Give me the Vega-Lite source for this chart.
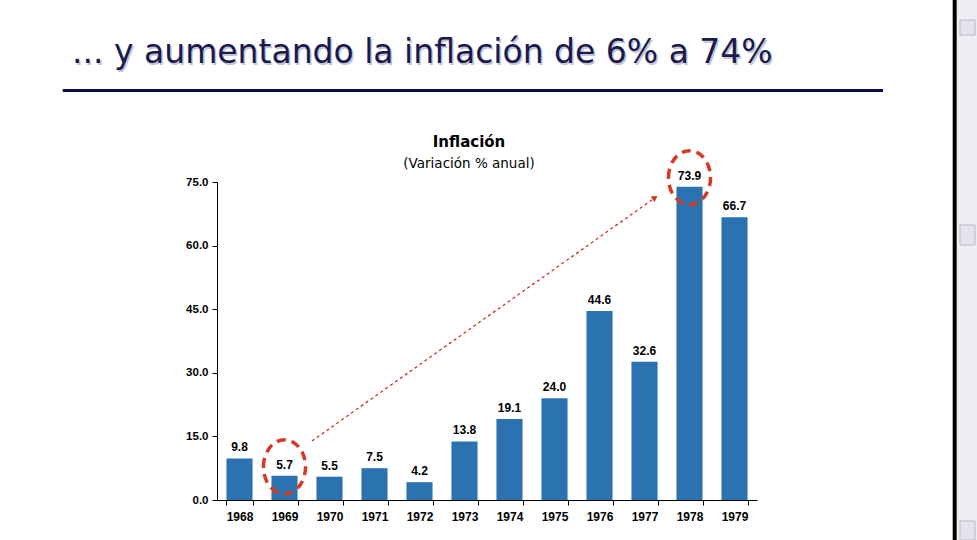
{
  "$schema": "https://vega.github.io/schema/vega-lite/v6.json",
  "width": 540,
  "height": 318,
  "autosize": {"type": "none"},
  "padding": {"left": 217, "top": 182, "right": 220, "bottom": 40},
  "background": "white",
  "config": {"view": {"stroke": null}},
  "datasets": {
    "infl": [
      {"year": "1968", "value": 9.8},
      {"year": "1969", "value": 5.7},
      {"year": "1970", "value": 5.5},
      {"year": "1971", "value": 7.5},
      {"year": "1972", "value": 4.2},
      {"year": "1973", "value": 13.8},
      {"year": "1974", "value": 19.1},
      {"year": "1975", "value": 24.0},
      {"year": "1976", "value": 44.6},
      {"year": "1977", "value": 32.6},
      {"year": "1978", "value": 73.9},
      {"year": "1979", "value": 66.7}
    ]
  },
  "layer": [
    {
      "data": {"name": "infl"},
      "layer": [
        {
          "mark": {"type": "bar", "color": "#2a73b0"},
          "encoding": {
            "x": {
              "field": "year",
              "type": "nominal",
              "scale": {
                "domain": ["1968","1969","1970","1971","1972","1973","1974","1975","1976","1977","1978","1979"],
                "paddingInner": 0.42,
                "paddingOuter": 0.21
              },
              "axis": {
                "title": null,
                "labelAngle": 0,
                "tickBand": "extent",
                "tickSize": 5,
                "labelPadding": 6,
                "labelFont": "Liberation Sans",
                "labelFontWeight": "bold",
                "labelFontSize": 12,
                "labelColor": "#000000",
                "domainColor": "#000000",
                "tickColor": "#000000"
              }
            },
            "y": {
              "field": "value",
              "type": "quantitative",
              "scale": {"domain": [0, 75], "nice": false},
              "axis": {
                "title": null,
                "values": [0, 15, 30, 45, 60, 75],
                "format": ".1f",
                "grid": false,
                "tickSize": 5,
                "labelPadding": 4,
                "labelFont": "Liberation Sans",
                "labelFontWeight": "bold",
                "labelFontSize": 11.5,
                "labelColor": "#000000",
                "domainColor": "#000000",
                "tickColor": "#000000"
              }
            }
          }
        },
        {
          "mark": {"type": "text", "font": "Liberation Sans", "fontWeight": "bold", "fontSize": 12, "color": "#000000", "baseline": "alphabetic", "dy": -7},
          "encoding": {
            "x": {"field": "year", "type": "nominal"},
            "y": {"field": "value", "type": "quantitative"},
            "text": {"field": "value", "type": "quantitative", "format": ".1f"}
          }
        },
        {
          "transform": [{"filter": "datum.year == '1969' || datum.year == '1978'"}],
          "mark": {
            "type": "point",
            "shape": "M -0.78 0 A 0.78 1 0 1 1 0.78 0 A 0.78 1 0 1 1 -0.78 0 Z",
            "size": 2916,
            "filled": false,
            "stroke": "#d43a24",
            "strokeWidth": 3.5,
            "strokeDash": [9, 6],
            "opacity": 1
          },
          "encoding": {
            "x": {"field": "year", "type": "nominal"},
            "y": {"field": "value", "type": "quantitative"},
            "yOffset": {"value": -9}
          }
        },
        {
          "data": {"values": [{"from": "1969", "to": "1978"}]},
          "layer": [
            {
              "mark": {"type": "rule", "color": "#c83220", "strokeWidth": 1.3, "strokeDash": [3, 3]},
              "encoding": {
                "x": {"field": "from", "type": "nominal", "bandPosition": 1.55},
                "x2": {"field": "to", "bandPosition": -0.82},
                "y": {"datum": 13.9, "type": "quantitative"},
                "y2": {"datum": 71.3}
              }
            },
            {
              "mark": {"type": "point", "shape": "triangle-right", "filled": true, "color": "#c83220", "size": 45, "angle": -35, "opacity": 1},
              "encoding": {
                "x": {"field": "to", "type": "nominal", "bandPosition": -0.82},
                "y": {"datum": 71.3, "type": "quantitative"}
              }
            }
          ]
        }
      ]
    },
    {
      "data": {"values": [{}]},
      "encoding": {
        "x": {"type": "quantitative", "scale": {"domain": [0, 1], "nice": false, "zero": false}, "axis": null},
        "y": {"type": "quantitative", "scale": {"domain": [0, 1], "nice": false, "zero": false}, "axis": null}
      },
      "layer": [
        {
          "mark": {"type": "text", "text": "... y aumentando la inflación de 6% a 74%", "font": "DejaVu Sans", "fontSize": 33, "color": "#c4c4d2", "align": "left", "baseline": "alphabetic", "dx": 1.5, "dy": 1.5},
          "encoding": {"x": {"datum": -0.2685}, "y": {"datum": 1.374}}
        },
        {
          "mark": {"type": "text", "text": "... y aumentando la inflación de 6% a 74%", "font": "DejaVu Sans", "fontSize": 33, "color": "#1a1a4e", "align": "left", "baseline": "alphabetic"},
          "encoding": {"x": {"datum": -0.2685}, "y": {"datum": 1.374}}
        },
        {
          "mark": {"type": "rule", "color": "#0a0a46", "strokeWidth": 3},
          "encoding": {"x": {"datum": -0.2857}, "x2": {"datum": 1.2333}, "y": {"datum": 1.2877}}
        },
        {
          "mark": {"type": "text", "text": "Inflación", "font": "DejaVu Sans", "fontWeight": "bold", "fontSize": 15, "color": "#000000", "align": "center", "baseline": "alphabetic"},
          "encoding": {"x": {"datum": 0.4667}, "y": {"datum": 1.11}}
        },
        {
          "mark": {"type": "text", "text": "(Variación % anual)", "font": "DejaVu Sans", "fontSize": 13.5, "color": "#000000", "align": "center", "baseline": "alphabetic"},
          "encoding": {"x": {"datum": 0.4667}, "y": {"datum": 1.044}}
        },
        {
          "mark": {"type": "rect", "color": "#eeeef5"},
          "encoding": {"x": {"datum": 1.3704}, "x2": {"datum": 1.41}, "y": {"datum": -0.13}, "y2": {"datum": 1.58}}
        },
        {
          "mark": {"type": "rule", "color": "#000000", "strokeWidth": 4},
          "encoding": {"x": {"datum": 1.3661}, "y": {"datum": -0.13}, "y2": {"datum": 1.58}}
        },
        {
          "mark": {"type": "rect", "color": "#e4e4ee", "stroke": "#b8b8c8", "strokeWidth": 1},
          "encoding": {"x": {"datum": 1.3759}, "x2": {"datum": 1.4037}, "y": {"datum": 0.8019}, "y2": {"datum": 0.8648}}
        },
        {
          "mark": {"type": "rect", "color": "#e4e4ee", "stroke": "#b8b8c8", "strokeWidth": 1},
          "encoding": {"x": {"datum": 1.3759}, "x2": {"datum": 1.4037}, "y": {"datum": 1.4623}, "y2": {"datum": 1.5094}}
        },
        {
          "mark": {"type": "rect", "color": "#e4e4ee", "stroke": "#b8b8c8", "strokeWidth": 1},
          "encoding": {"x": {"datum": 1.3759}, "x2": {"datum": 1.4037}, "y": {"datum": -0.1258}, "y2": {"datum": -0.066}}
        }
      ]
    }
  ],
  "resolve": {"scale": {"x": "independent", "y": "independent"}}
}
